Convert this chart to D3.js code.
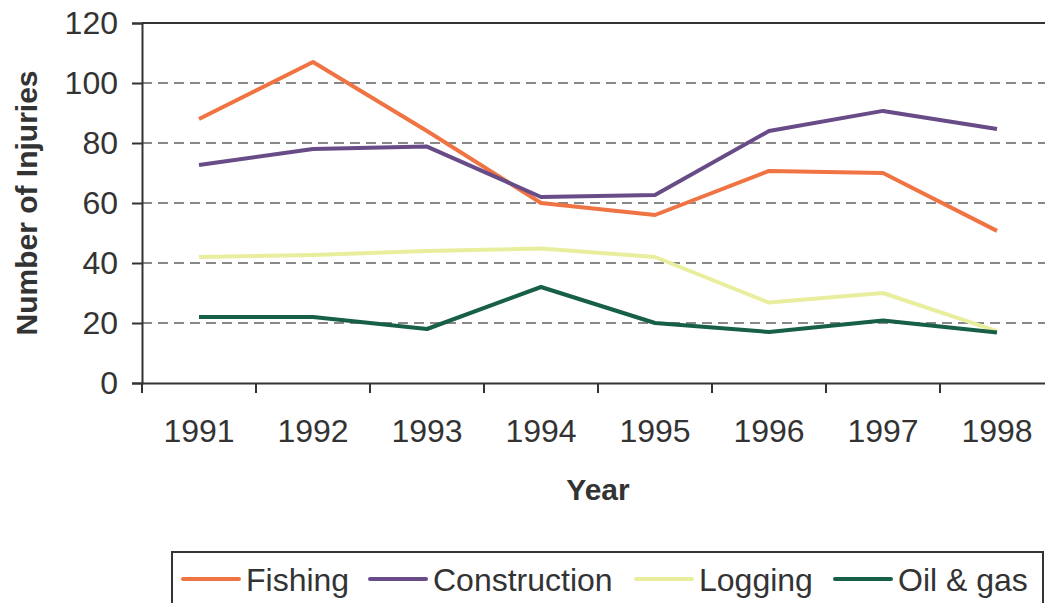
<!DOCTYPE html>
<html>
<head>
<meta charset="utf-8">
<script src="https://cdn.jsdelivr.net/npm/d3@7"></script>
<style>
  body { margin: 0; background: #fff; }
  svg { display: block; font-family: "Liberation Sans", Arial, sans-serif; }
</style>
</head>
<body>
<div id="chart"></div>
<script>
// данные
const years = ['1991', '1992', '1993', '1994', '1995', '1996', '1997', '1998'];
const fishing = [88, 107, 84, 60, 56, 70.7, 70, 50.7];
const construction = [72.7, 78, 78.8, 62, 62.7, 84, 90.7, 84.7];
const logging = [42, 42.7, 44, 44.8, 42, 26.8, 30, 17.3];
const oilGas = [22, 22, 18, 32, 20, 17, 20.8, 16.8];
const yTicks = [0, 20, 40, 60, 80, 100, 120];

const series = [
  { name: 'Fishing', values: fishing, color: '#F07343' },
  { name: 'Construction', values: construction, color: '#684C88' },
  { name: 'Logging', values: logging, color: '#E9EE9E' },
  { name: 'Oil & gas', values: oilGas, color: '#185F47' }
];

const width = 1045, height = 603;
const mLeft = 142, mRight = 1054, mTop = 23, mBottom = 383;

const svg = d3.select('#chart').append('svg')
  .attr('width', width)
  .attr('height', height);

const x = d3.scaleBand().domain(years).range([mLeft, mRight]);
const y = d3.scaleLinear().domain([0, 120]).range([mBottom, mTop]);

const ink = '#333';

// сетка
svg.append('g')
  .selectAll('line')
  .data(yTicks.filter(t => t > 0 && t < 120))
  .join('line')
  .attr('x1', mLeft).attr('x2', mRight)
  .attr('y1', d => y(d)).attr('y2', d => y(d))
  .attr('stroke', '#888')
  .attr('stroke-width', 2)
  .attr('stroke-dasharray', '10,6');

// верхняя линия
svg.append('line')
  .attr('x1', mLeft).attr('x2', mRight)
  .attr('y1', y(120)).attr('y2', y(120))
  .attr('stroke', ink).attr('stroke-width', 2);

// ось Y
const yAxis = svg.append('g')
  .attr('transform', `translate(${mLeft},0)`)
  .call(d3.axisLeft(y).tickValues(yTicks).tickSize(10).tickPadding(14));
yAxis.select('.domain').attr('stroke', ink).attr('stroke-width', 2);
yAxis.selectAll('.tick line').attr('stroke', ink).attr('stroke-width', 2);
yAxis.selectAll('.tick text')
  .attr('font-size', 32).attr('fill', ink).attr('font-family', '"Liberation Sans", Arial, sans-serif');

// ось X
const xAxis = svg.append('g')
  .attr('transform', `translate(0,${mBottom})`)
  .call(d3.axisBottom(x).tickSize(0).tickPadding(36));
xAxis.select('.domain').attr('stroke', ink).attr('stroke-width', 2);
xAxis.selectAll('.tick text')
  .attr('font-size', 32).attr('fill', ink).attr('font-family', '"Liberation Sans", Arial, sans-serif');

// засечки между категориями
const bounds = years.map(d => x(d)).concat([mRight]);
svg.append('g')
  .selectAll('line')
  .data(bounds)
  .join('line')
  .attr('x1', d => d).attr('x2', d => d)
  .attr('y1', mBottom).attr('y2', mBottom + 10)
  .attr('stroke', ink).attr('stroke-width', 2);

// линии серий
const line = d3.line()
  .x((d, i) => x(years[i]) + x.bandwidth() / 2)
  .y(d => y(d));

svg.append('g')
  .selectAll('path')
  .data(series)
  .join('path')
  .attr('d', d => line(d.values))
  .attr('fill', 'none')
  .attr('stroke', d => d.color)
  .attr('stroke-width', 4)
  .attr('stroke-linejoin', 'round');

// подписи осей
svg.append('text')
  .attr('transform', `translate(37,${(mTop + mBottom) / 2}) rotate(-90)`)
  .attr('text-anchor', 'middle')
  .attr('font-size', 30)
  .attr('font-weight', 'bold')
  .attr('fill', ink)
  .text('Number of Injuries');

svg.append('text')
  .attr('x', (mLeft + mRight) / 2)
  .attr('y', 500)
  .attr('text-anchor', 'middle')
  .attr('font-size', 30)
  .attr('font-weight', 'bold')
  .attr('fill', ink)
  .text('Year');

// легенда
svg.append('rect')
  .attr('x', 172).attr('y', 552)
  .attr('width', 871).attr('height', 70)
  .attr('fill', 'none')
  .attr('stroke', ink).attr('stroke-width', 2);

const legendX = [183, 370, 636, 835];
const item = svg.append('g')
  .selectAll('g')
  .data(series)
  .join('g')
  .attr('transform', (d, i) => `translate(${legendX[i]},579)`);

item.append('line')
  .attr('x1', 0).attr('x2', 56)
  .attr('stroke', d => d.color)
  .attr('stroke-width', 4)
  .attr('stroke-linecap', 'round');

item.append('text')
  .attr('x', 63)
  .attr('y', 12)
  .attr('font-size', 32)
  .attr('fill', ink)
  .text(d => d.name);
</script>
</body>
</html>
